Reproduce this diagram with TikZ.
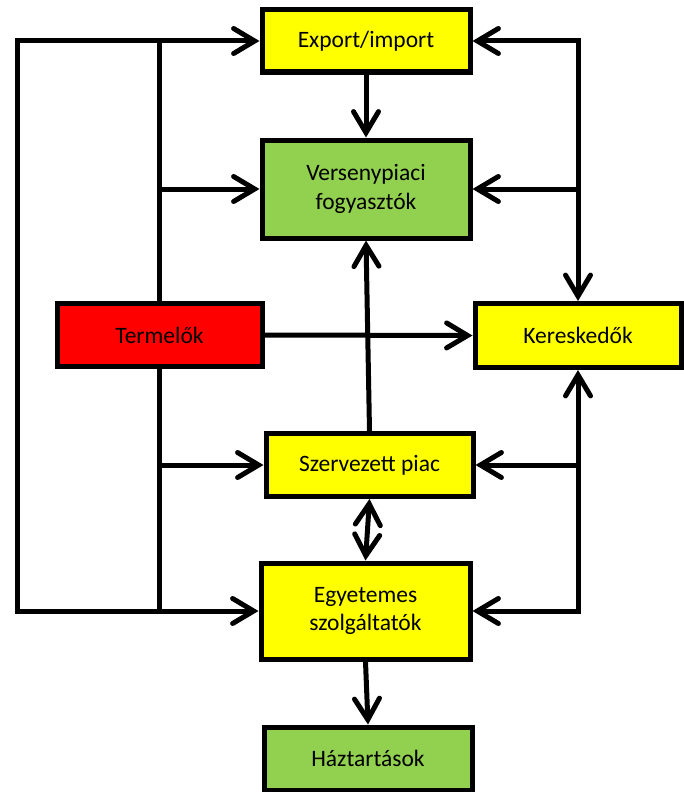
\documentclass[tikz,border=0pt]{standalone}
\usepackage{fontspec}
\setmainfont{Carlito}
\usetikzlibrary{arrows.meta}
\definecolor{cyel}{HTML}{FFFF00}
\definecolor{cgrn}{HTML}{92D050}
\definecolor{cred}{HTML}{FF0000}
\begin{document}
\begin{tikzpicture}[x=1pt,y=-1pt,
  box/.style={draw=black,line width=5pt,minimum width=#1,inner sep=2pt,align=center,
    font=\fontsize{23.5}{28.5}\selectfont},
  conn/.style={line width=5pt,-{Straight Barb[length=21pt,width=25pt,line cap=round]}},
  conn2/.style={line width=5pt,{Straight Barb[length=21pt,width=25pt,line cap=round]}-{Straight Barb[length=21pt,width=25pt,line cap=round]}},
  plain/.style={line width=5pt}]
\useasboundingbox (0,0) rectangle (683,792);
\node[box=208pt,fill=cyel,minimum height=62pt] (exp) at (366,41) {Export/import};
\node[box=208pt,fill=cgrn,minimum height=98pt] (ver) at (366,189) {Versenypiaci\\fogyasztók};
\node[box=205pt,fill=cred,minimum height=63pt] (ter) at (159.5,335) {Termelők};
\node[box=206pt,fill=cyel,minimum height=64pt] (ker) at (578,335.5) {Kereskedők};
\node[box=207pt,fill=cyel,minimum height=63pt] (sze) at (369.5,465) {Szervezett piac};
\node[box=209pt,fill=cyel,minimum height=96pt] (egy) at (365.5,611) {Egyetemes\\szolgáltatók};
\node[box=208pt,fill=cgrn,minimum height=63pt] (haz) at (368,758.5) {Háztartások};
\coordinate (ol) at (17,335);
% left side
\draw[conn2] (egy.west) -| (ol) |- (exp.west);
\draw[plain] (ter.north) -- (ter.north |- exp.west);
\draw[plain] (ter.south) -- (ter.south |- egy.west);
\draw[conn] (ter.north |- ver.west) -- (ver.west);
\draw[conn] (ter.south |- sze.west) -- (sze.west);
% right side
\draw[conn2] (exp.east) -| (ker.north);
\draw[conn] (ker.north |- ver.east) -- (ver.east);
\draw[conn2] (egy.east) -| (ker.south);
\draw[conn] (ker.south |- sze.east) -- (sze.east);
% centre
\draw[conn] (exp.south) -- (ver.north);
\draw[conn] (sze.north) -- (ver.south);
\draw[conn2] (sze.south) -- (egy.north);
\draw[conn] (egy.south) -- (haz.north);
\draw[conn] (ter.east) -- (ker.west);
\end{tikzpicture}
\end{document}
